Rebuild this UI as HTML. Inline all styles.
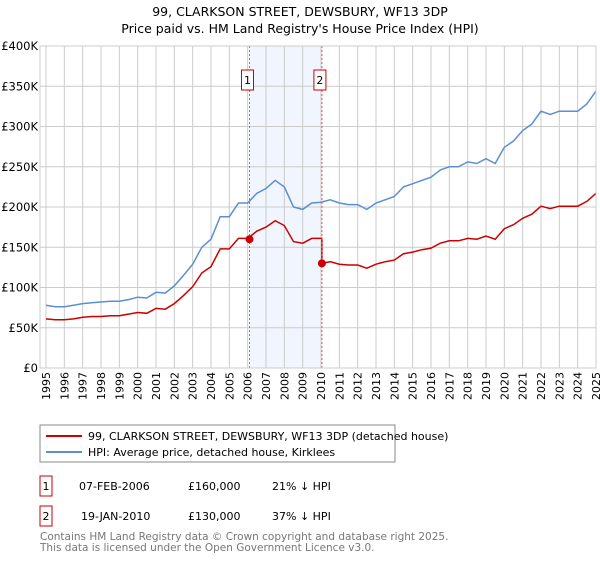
<!DOCTYPE html>
<html><head><meta charset="utf-8"><style>
body{margin:0;background:#fff;font-family:"Liberation Sans","DejaVu Sans",sans-serif}
svg text{font-family:"DejaVu Sans","Liberation Sans",sans-serif}
</style></head><body>
<svg id="c" width="600" height="560" xmlns="http://www.w3.org/2000/svg">
<text x="300" y="16" text-anchor="middle" font-size="12.5">99, CLARKSON STREET, DEWSBURY, WF13 3DP</text>
<text x="300" y="33" text-anchor="middle" font-size="12.5">Price paid vs. HM Land Registry's House Price Index (HPI)</text>
<g id="grid"></g><g id="series"></g>
<rect x="40" y="425" width="355" height="37" fill="#fff" stroke="#888"/>
<line x1="46" y1="436" x2="82" y2="436" stroke="#cc0000" stroke-width="2"/>
<text x="88" y="440" font-size="11">99, CLARKSON STREET, DEWSBURY, WF13 3DP (detached house)</text>
<line x1="46" y1="452" x2="82" y2="452" stroke="#5b8fd0" stroke-width="2"/>
<text x="88" y="456" font-size="11">HPI: Average price, detached house, Kirklees</text>
<g font-size="11">
<rect x="40" y="476" width="12" height="20" fill="#fff" stroke="#cc0000"/>
<text x="46" y="490" text-anchor="middle">1</text>
<text x="79" y="490">07-FEB-2006</text>
<text x="188" y="490">£160,000</text>
<text x="272" y="490">21% ↓ HPI</text>
<rect x="40" y="506" width="12" height="20" fill="#fff" stroke="#cc0000"/>
<text x="46" y="520" text-anchor="middle">2</text>
<text x="81" y="520">19-JAN-2010</text>
<text x="188" y="520">£130,000</text>
<text x="272" y="520">37% ↓ HPI</text>
</g>
<text x="40" y="540" font-size="10.5" fill="#777">Contains HM Land Registry data © Crown copyright and database right 2025.</text>
<text x="40" y="551" font-size="10.5" fill="#777">This data is licensed under the Open Government Licence v3.0.</text>
</svg>
<script>
const years=[1995,1996,1997,1998,1999,2000,2001,2002,2003,2004,2005,2006,2007,2008,2009,2010,2011,2012,2013,2014,2015,2016,2017,2018,2019,2020,2021,2022,2023,2024,2025];
const yTicks=[0,50000,100000,150000,200000,250000,300000,350000,400000];
const yTickLabels=["£0","£50K","£100K","£150K","£200K","£250K","£300K","£350K","£400K"];
const hpiStart=1995, step=0.5;
const hpiValues=[78,76,76,78,80,81,82,83,83,85,88,87,94,93,102,115,129,150,160,188,188,205,205,217,223,233,225,200,197,205,206,209,205,203,203,197,205,209,213,225,229,233,237,246,250,250,256,254,260,254,274,282,295,303,319,315,319,319,319,328,344];
const priceValues=[61,60,60,61,63,64,64,65,65,67,69,68,74,73,80,90,101,118,126,148,148,161,161,170,175,183,177,157,155,161,130,132,129,128,128,124,129,132,134,142,144,147,149,155,158,158,161,160,164,160,173,178,186,191,201,198,201,201,201,207,217];
const saleDates=[2006.1,2010.05];
const salePrices=[160,130];
const saleLabels=["1","2"];
const NS="http://www.w3.org/2000/svg";
const X=t=>46+(t-1995)*(550/30);
const Y=v=>368-v/400000*322;
const g=document.getElementById('grid'), s=document.getElementById('series');
function mk(tag,a,p){const e=document.createElementNS(NS,tag);for(const k in a)e.setAttribute(k,a[k]);p.appendChild(e);return e;}
const sh=mk('rect',{x:X(saleDates[0]),y:46,width:X(saleDates[1])-X(saleDates[0]),height:322,fill:'#eef3fc',opacity:0.8},g);


yTicks.forEach((v,i)=>{
 const l=mk('line',{x1:40,x2:596,y1:Y(v),y2:Y(v),stroke:'#ccc'},g);
 
 
 const t=mk('text',{x:38,y:Y(v)+4,'text-anchor':'end','font-size':11.5},g);t.textContent=yTickLabels[i];
 
 
});
years.forEach(yr=>{
 const l=mk('line',{x1:X(yr),x2:X(yr),y1:46,y2:368,stroke:'#ccc'},g);
 
 
 const tx=X(yr)+4, ty=372;
 const t=mk('text',{x:tx,y:ty,'text-anchor':'end','font-size':11,transform:'rotate(-90 '+tx+' '+ty+')'},g);t.textContent=yr;
 
 
});
function path(vals){return vals.map((v,i)=>{let t=hpiStart+i*step;return (i?'L':'M')+X(t).toFixed(1)+','+Y(v*1000).toFixed(1);}).join('');}
const hp=mk('path',{d:path(hpiValues),fill:'none',stroke:'#5b8fd0','stroke-width':1.5},s);


let pd='';priceValues.forEach((v,i)=>{let t=hpiStart+i*step;if(i==30)t=saleDates[1];if(i==30)pd+='L'+X(t).toFixed(1)+','+Y(priceValues[29]*1000).toFixed(1);pd+=(i?'L':'M')+X(t).toFixed(1)+','+Y(v*1000).toFixed(1);});
const pp=mk('path',{d:pd,fill:'none',stroke:'#cc0000','stroke-width':1.5},s);


saleDates.forEach((d,i)=>{
 const l=mk('line',{x1:X(d),x2:X(d),y1:46,y2:368,stroke:'#e55','stroke-dasharray':'2,2'},s);
 
 
 const c=mk('circle',{cx:X(d),cy:Y(salePrices[i]*1000),r:4,fill:'#cc0000'},s);
 
 
 const r=mk('rect',{x:X(d)-8,y:70,width:12,height:20,fill:'#fff',stroke:'#cc0000'},s);
 
 
 const t=mk('text',{x:X(d)-2,y:84,'text-anchor':'middle','font-size':11},s);t.textContent=saleLabels[i];
 
 
});
const ax=mk('rect',{x:40,y:46,width:556,height:322,fill:'none',stroke:'#ccc'},s);


</script>
</body></html>
